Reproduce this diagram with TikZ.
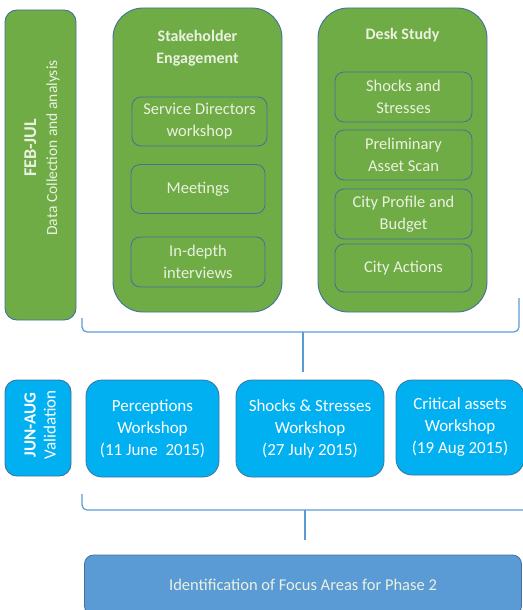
\documentclass[tikz,border=0pt]{standalone}
\usepackage{fontspec}
\setmainfont{Carlito}
\usepackage{tikz}
\usetikzlibrary{positioning}

\definecolor{leaf}{HTML}{6FAC46}
\definecolor{edge}{HTML}{41719C}
\definecolor{sky}{HTML}{00B0F0}
\definecolor{steel}{HTML}{5B9BD5}
\definecolor{paletext}{HTML}{EAF1E0}

\tikzset{
    outerbox/.style={draw=edge, line width=0.9pt, fill=leaf, rounded corners=30pt,
        minimum width=169pt, minimum height=304pt},
    innerbox/.style={draw=edge, line width=0.8pt, fill=leaf, rounded corners=9pt,
        minimum width=135pt, minimum height=49pt, text=paletext, align=center,
        font=\fontsize{16.5}{22}\selectfont},
    sidebox/.style={draw=edge, line width=0.9pt, rounded corners=12pt, text=paletext,
        align=center, font=\fontsize{15.5}{21}\selectfont},
    workbox/.style={draw=edge, line width=0.8pt, fill=sky, rounded corners=16pt,
        minimum height=97pt, text=white, align=center,
        font=\fontsize{17}{22}\selectfont},
    titletext/.style={text=paletext, align=center, font=\bfseries\fontsize{16}{22}\selectfont},
    brace/.style={draw=steel, line width=1.2pt, rounded corners=5pt}
}

\begin{document}
\begin{tikzpicture}[x=1pt, y=-1pt]
    \useasboundingbox (0,0) rectangle (522,610);

    % data collection phase
    \node [sidebox, fill=leaf, minimum width=71pt, minimum height=310pt] (FebJul) at (40.5,165) {};
    \node [text=paletext, align=center, font=\fontsize{15.5}{21}\selectfont, rotate=90] (FebJulText) at (42,148)
        {{\bfseries\fontsize{18}{21}\selectfont FEB-JUL}\\Data Collection and analysis};

    \node [outerbox] (Stake) at (197.5,160) {};
    \node [titletext, below=19pt of Stake.north] (StakeTitle) {Stakeholder\\Engagement};
    \node [innerbox] (Directors) at (199.5,121.5) {Service Directors\\workshop};
    \node [innerbox, minimum width=134pt] (Meetings) at (198,189) {Meetings};
    \node [innerbox, minimum width=134pt, minimum height=50pt] (Interviews) at (198,262) {In-depth\\interviews};

    \node [outerbox] (Desk) at (402.5,160) {};
    \node [titletext, below=17pt of Desk.north] (DeskTitle) {Desk Study};
    \node [innerbox, minimum width=137pt, minimum height=50pt] (Shocks) at (403.5,97) {Shocks and\\Stresses};
    \node [innerbox, minimum width=137pt, minimum height=50pt] (Scan) at (403.5,155) {Preliminary\\Asset Scan};
    \node [innerbox, minimum width=137pt, minimum height=50pt] (Profile) at (403.5,214) {City Profile and\\Budget};
    \node [innerbox, minimum width=137pt, minimum height=48pt] (Actions) at (403.5,268) {City Actions};

    % first brace
    \coordinate (BraceA1) at (82,318);
    \coordinate (BraceA2) at (519,298);
    \coordinate (BraceAmid) at (303,332);
    \coordinate (BraceAtip) at (303,372);
    \draw [brace] (BraceA1) |- (BraceAmid) -| (BraceA2);
    \draw [brace] (BraceAmid) -- (BraceAtip);

    % validation phase
    \node [sidebox, fill=sky, minimum width=66pt, minimum height=96pt] (JunAug) at (38,428) {};
    \node [text=white, align=center, font=\fontsize{17}{20}\selectfont, rotate=90] (JunAugText) at (40,425)
        {\textbf{JUN-AUG}\\Validation};
    \node [workbox, minimum width=133pt] (Perceptions) at (152.5,428.5)
        {Perceptions\\Workshop\\(11 June\ \ 2015)};
    \node [workbox, minimum width=148pt] (ShockWork) at (310,428.5)
        {Shocks \& Stresses\\Workshop\\(27 July 2015)};
    \node [workbox, minimum width=128pt, minimum height=95pt] (Critical) at (460,427.5)
        {Critical assets\\Workshop\\(19 Aug 2015)};

    % second brace
    \coordinate (BraceB1) at (82,494);
    \coordinate (BraceB2) at (524,510);
    \coordinate (BraceBmid) at (305,510);
    \coordinate (BraceBtip) at (305,540);
    \draw [brace] (BraceB1) |- (BraceB2);
    \draw [brace] (BraceBmid) -- (BraceBtip);

    % outcome
    \node [draw=edge, line width=0.8pt, fill=steel, rounded corners=9pt,
        minimum width=437pt, minimum height=60pt, text=paletext,
        font=\fontsize{16.5}{20}\selectfont] (Focus) at (303,585)
        {Identification of Focus Areas for Phase 2};
\end{tikzpicture}
\end{document}
